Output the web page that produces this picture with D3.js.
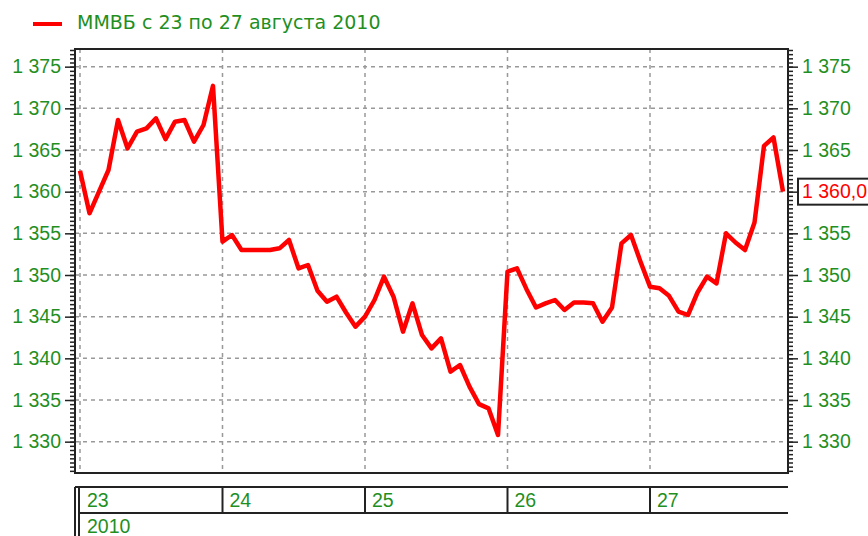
<!DOCTYPE html>
<html lang="ru">
<head>
<meta charset="utf-8">
<title>ММВБ с 23 по 27 августа 2010</title>
<script src="https://d3js.org/d3.v7.min.js"></script>
<style>
body { margin: 0; background: #fff; }
svg { display: block; }
.lbl { font: 19.5px "Liberation Sans", Arial, sans-serif; fill: #1f8f1f; }
.legend { font: 19px "DejaVu Sans", sans-serif; fill: #1f8f1f; }
.grid line { stroke: #999; stroke-width: 1.5; stroke-dasharray: 4,4; }
</style>
</head>
<body>
<svg width="868" height="536"></svg>
<script>
// index values, 15 bars per trading day
var days = [23, 24, 25, 26, 27];
var year = "2010";
var title = "ММВБ с 23 по 27 августа 2010";
var day23 = [1362.5, 1357.4, 1360.0, 1362.6, 1368.6, 1365.2, 1367.2, 1367.6, 1368.8, 1366.3, 1368.4, 1368.6, 1366.0, 1368.0, 1372.7];
var day24 = [1354.0, 1354.8, 1353.0, 1353.0, 1353.0, 1353.0, 1353.2, 1354.2, 1350.8, 1351.2, 1348.1, 1346.8, 1347.4, 1345.5, 1343.8];
var day25 = [1345.0, 1347.0, 1349.8, 1347.4, 1343.2, 1346.6, 1342.8, 1341.2, 1342.4, 1338.4, 1339.2, 1336.6, 1334.5, 1334.0, 1330.8];
var day26 = [1350.4, 1350.8, 1348.3, 1346.1, 1346.6, 1347.0, 1345.8, 1346.7, 1346.7, 1346.6, 1344.4, 1346.1, 1353.8, 1354.8, 1351.6];
var day27 = [1348.6, 1348.4, 1347.5, 1345.6, 1345.2, 1347.9, 1349.8, 1349.0, 1355.0, 1353.9, 1353.0, 1356.3, 1365.5, 1366.5, 1360.0];
var majorTicks = [1330, 1335, 1340, 1345, 1350, 1355, 1360, 1365, 1370, 1375];

var series = [].concat(day23, day24, day25, day26, day27);
var perDay = day23.length;
var last = series[series.length - 1];

var svg = d3.select("svg");
var plotL = 75, plotR = 788, plotT = 49, plotB = 473;

var loc = d3.formatLocale({ decimal: ",", thousands: " ", grouping: [3], currency: ["", ""] });
var fmt = loc.format(",d");
var fmtLast = loc.format(",.1f");

var x = d3.scaleLinear()
  .domain([0, series.length])
  .range([80, 80 + series.length * 9.5]);
var y = d3.scaleLinear()
  .domain([1326.24, 1377.12])
  .range([plotB, plotT]);

var minorTicks = d3.range(1326.5, 1377.1, 0.5);

// grid
var grid = svg.append("g").attr("class", "grid");
grid.selectAll(".h")
  .data(majorTicks)
  .enter().append("line")
    .attr("x1", plotL).attr("x2", plotR)
    .attr("y1", function(d) { return y(d); })
    .attr("y2", function(d) { return y(d); });
grid.selectAll(".v")
  .data(days)
  .enter().append("line")
    .attr("x1", function(d, i) { return x(i * perDay); })
    .attr("x2", function(d, i) { return x(i * perDay); })
    .attr("y1", plotT).attr("y2", plotB);

// axes, left and right
function ticks(g, axisFn, pos, hide) {
  g.append("g")
    .attr("transform", "translate(" + pos + ",0)")
    .call(axisFn(y).tickValues(minorTicks).tickSize(5).tickFormat(""))
    .call(function(s) { s.select(".domain").remove(); });
  var major = g.append("g")
    .attr("transform", "translate(" + pos + ",0)")
    .call(axisFn(y).tickValues(majorTicks).tickSize(10).tickPadding(4).tickFormat(fmt));
  major.select(".domain").remove();
  major.selectAll("text").attr("class", "lbl").attr("fill", null);
  // the last-value box sits over this label on the right side
  if (hide) major.selectAll("text").filter(function(d) { return d === hide; }).remove();
  major.attr("font-size", null).attr("font-family", null);
  g.selectAll("line").attr("stroke", "#222").attr("stroke-width", 1.5);
}
ticks(svg.append("g"), d3.axisLeft, plotL);
ticks(svg.append("g"), d3.axisRight, plotR, 1360);

// frame
svg.append("rect")
  .attr("x", plotL).attr("y", plotT)
  .attr("width", plotR - plotL).attr("height", plotB - plotT)
  .attr("fill", "none").attr("stroke", "#222").attr("stroke-width", 2);

// price line
var line = d3.line()
  .x(function(d, i) { return x(i); })
  .y(function(d) { return y(d); });
svg.append("path")
  .datum(series)
  .attr("fill", "none")
  .attr("stroke", "#ff0000")
  .attr("stroke-width", 4.5)
  .attr("stroke-linejoin", "round")
  .attr("d", line);

// last value box
svg.append("rect")
  .attr("x", 798).attr("y", y(last) - 13)
  .attr("width", 80).attr("height", 26)
  .attr("fill", "#fff").attr("stroke", "#222").attr("stroke-width", 2);
svg.append("text")
  .attr("class", "lbl")
  .attr("x", 802).attr("y", y(last))
  .attr("dy", "0.35em")
  .style("fill", "#ff0000")
  .text(fmtLast(last));

// legend
svg.append("line")
  .attr("x1", 33).attr("x2", 62).attr("y1", 24).attr("y2", 24)
  .attr("stroke", "#ff0000").attr("stroke-width", 4);
svg.append("text")
  .attr("class", "legend")
  .attr("x", 77).attr("y", 29)
  .text(title);

// date band under the chart
var band = svg.append("g");
band.append("line").attr("x1", 75).attr("x2", plotR).attr("y1", 487).attr("y2", 487);
band.append("line").attr("x1", 79).attr("x2", plotR).attr("y1", 513).attr("y2", 513);
band.append("line").attr("x1", 75).attr("x2", 75).attr("y1", 487).attr("y2", 536);
band.append("line").attr("x1", 79).attr("x2", 79).attr("y1", 487).attr("y2", 536);
band.selectAll(".sep")
  .data(days.slice(1))
  .enter().append("line")
    .attr("x1", function(d, i) { return x((i + 1) * perDay); })
    .attr("x2", function(d, i) { return x((i + 1) * perDay); })
    .attr("y1", 487).attr("y2", 513);
band.selectAll("line").attr("stroke", "#222").attr("stroke-width", 2);
band.selectAll(".day")
  .data(days)
  .enter().append("text")
    .attr("class", "lbl")
    .attr("x", function(d, i) { return x(i * perDay) + 7; })
    .attr("y", 507)
    .text(function(d) { return d; });
band.append("text")
  .attr("class", "lbl")
  .attr("x", 87).attr("y", 533)
  .text(year);
</script>
</body>
</html>
